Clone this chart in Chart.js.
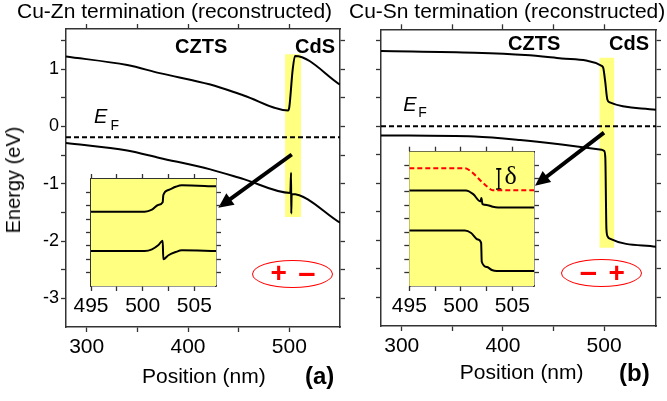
<!DOCTYPE html>
<html>
<head>
<meta charset="utf-8">
<script src="https://cdn.jsdelivr.net/npm/chart.js@4.4.1/dist/chart.umd.min.js"></script>
<style>
  html, body { margin: 0; padding: 0; background: #fff; }
  #wrap { position: relative; width: 667px; height: 401px; overflow: hidden;
          font-family: "Liberation Sans", Arial, sans-serif; }
  #wrap canvas { position: absolute; left: 0; top: 0; }
  .t { position: absolute; white-space: nowrap; line-height: 1; color: #000; }
  .oval { position: absolute; border: 1.5px solid #f00; border-radius: 50%; box-sizing: border-box; }
</style>
</head>
<body>
<div id="wrap">
  <canvas id="mainA" width="667" height="401"></canvas>
  <canvas id="mainB" width="667" height="401"></canvas>
  <canvas id="insetA" width="667" height="401"></canvas>
  <canvas id="insetB" width="667" height="401"></canvas>
</div>
<script>
// ---- data -----------------------------------------------------------------

// (a) Cu-Zn termination: band edges vs position (nm), energy (eV)
const posA_cb = [279.6, 340, 372, 422, 455, 499.0, 500.0, 503.3, 505.6, 550];
const enA_cb  = [1.22, 1.07, 0.93, 0.73, 0.54, 0.28, 0.34, 0.99, 1.23, 0.73];
const posA_vb = [279.6, 340, 372, 422, 455, 501.0, 501.7, 501.9, 502.3, 550];
const enA_vb  = [-0.29, -0.42, -0.55, -0.75, -0.92, -1.16, -0.81, -1.52, -1.18, -1.68];
const efA = -0.19;
const bandA_x = [495.8, 511.6];
const bandA_y = [-1.58, 1.26];
const arrowA_x = [502.4, 429.9];
const arrowA_y = [-0.49, -1.42];

// (b) Cu-Sn termination
const posB_cb = [279.5, 372, 422, 458, 497.6, 499.2, 501.0, 503.2, 505.6, 551.3];
const enB_cb  = [1.32, 1.29, 1.25, 1.19, 1.06, 1.02, 0.80, 0.47, 0.42, 0.29];
const posB_vb = [279.5, 372, 417, 458, 497.6, 500.0, 501.2, 502.3, 503.5, 505.6, 551.3];
const enB_vb  = [-0.16, -0.18, -0.24, -0.32, -0.41, -0.43, -0.55, -1.80, -1.93, -1.97, -2.11];
const efB = 0.0;
const bandB_x = [495.3, 510.1];
const bandB_y = [-2.13, 1.2];
const arrowB_x = [499.9, 431.7];
const arrowB_y = [-0.11, -1.04];

// insets (arbitrary energy units, one tick per unit)
const insA_x    = [495, 500.2, 500.9, 501.5, 501.94, 502.0, 502.5, 503.2, 503.8, 507.1];
const insA_y_up = [5.56, 5.56, 5.71, 6.06, 6.26, 6.80, 7.18, 7.42, 7.53, 7.45];
const insA_y_lo = [2.62, 2.62, 2.74, 3.04, 3.39, 2.00, 2.30, 2.54, 2.67, 2.62];

const insB_x_red = [495, 500.4, 501.0, 501.85, 502.55, 503.1, 507.1];
const insB_y_red = [8.77, 8.77, 8.52, 7.90, 7.41, 7.13, 7.13];
const insB_x_up  = [495, 500.5, 501.2, 501.9, 502.0, 502.1, 502.6, 503.1, 503.6, 507.1];
const insB_y_up  = [7.11, 7.11, 6.84, 6.30, 6.55, 6.10, 6.02, 5.90, 5.85, 5.85];
const insB_x_lo  = [495, 500.4, 501.0, 501.65, 501.97, 502.03, 502.55, 503.0, 503.5, 507.1];
const insB_y_lo  = [4.13, 4.13, 3.95, 3.46, 3.21, 1.81, 1.41, 1.19, 1.11, 1.11];
const deltaX = 503.68;
const deltaY = [8.72, 7.21];
const deltaCap = 0.25;

// ticks
const mainXTicks  = [300, 350, 400, 450, 500];
const mainXLabels = [300, 400, 500];
const mainYTicks  = [-3, -2.5, -2, -1.5, -1, -0.5, 0, 0.5, 1, 1.5];
const mainYLabels = [-3, -2, -1, 0, 1];
const insXTicks   = [495, 497.5, 500, 502.5, 505];
const insXLabels  = [495, 500, 505];
const insAYTicks  = [1, 2, 3, 4, 5, 6, 7];
const insBYTicks  = [1, 2, 3, 4, 5, 6, 7, 8, 9];

// ---- drawing ---------------------------------------------------------------
const W = 667, H = 401;
const ink = '#333';
const yellow = '#ffff80';

Chart.defaults.font.family = '"Liberation Sans", Arial, sans-serif';
Chart.defaults.color = '#000';
Chart.defaults.animation = false;
Chart.defaults.plugins.legend.display = false;
Chart.defaults.plugins.tooltip.enabled = false;

function pts(xs, ys) { return xs.map((x, i) => ({ x, y: ys[i] })); }

function axis(position, min, max, tickVals, labelVals, size, thick) {
  const horizontal = position === 'top' || position === 'bottom';
  return {
    type: 'linear', position, min, max,
    afterBuildTicks: (ax) => { ax.ticks = tickVals.map((v) => ({ value: v })); },
    afterFit: (ax) => { if (horizontal) ax.height = thick; else ax.width = thick; },
    grid: { drawOnChartArea: false, drawTicks: true, tickLength: 5, tickColor: ink, tickWidth: 1.3 },
    border: { display: true, color: ink, width: 1.5 },
    ticks: {
      display: !!labelVals,
      padding: horizontal ? 3 : 2,
      autoSkip: false,
      maxRotation: 0,
      font: { size: size || 12 },
      color: '#000',
      callback: (v) => (labelVals && labelVals.includes(v) ? String(v) : ''),
    },
  };
}

function padFor(area, th) {
  return { left: area.l - th.l, right: W - area.r - th.r, top: area.t - th.t, bottom: H - area.b - th.b };
}

function curve(data, extra) {
  return Object.assign({
    data, borderColor: '#000', borderWidth: 2, pointRadius: 0,
    cubicInterpolationMode: 'monotone', fill: false,
  }, extra || {});
}

// thick arrow: shaft + filled head, from the dataset's two library-placed points
const arrowPlugin = {
  id: 'arrows',
  afterDatasetsDraw(chart) {
    const ctx = chart.ctx;
    chart.data.datasets.forEach((ds, i) => {
      if (!ds.arrow) return;
      const pts = chart.getDatasetMeta(i).data;
      const a = pts[0], b = pts[1];
      const dx = b.x - a.x, dy = b.y - a.y;
      const len = Math.hypot(dx, dy), ux = dx / len, uy = dy / len;
      const hl = 15, hw = 7;
      const bx = b.x - ux * hl, by = b.y - uy * hl;
      ctx.save();
      ctx.strokeStyle = '#000';
      ctx.lineWidth = 4;
      ctx.beginPath();
      ctx.moveTo(a.x, a.y);
      ctx.lineTo(bx + ux * 2, by + uy * 2);
      ctx.stroke();
      ctx.fillStyle = '#000';
      ctx.beginPath();
      ctx.moveTo(b.x, b.y);
      ctx.lineTo(bx - uy * hw, by + ux * hw);
      ctx.lineTo(bx + uy * hw, by - ux * hw);
      ctx.closePath();
      ctx.fill();
      ctx.restore();
    });
  },
};

const yellowArea = {
  id: 'yellowArea',
  beforeDatasetsDraw(chart) {
    const { ctx, chartArea: c } = chart;
    ctx.save();
    ctx.fillStyle = yellow;
    ctx.fillRect(c.left, c.top, c.right - c.left, c.bottom - c.top);
    ctx.restore();
  },
};

function mainChart(id, area, xmin, xmax, cb, vb, ef, bandX, bandY, arrX, arrY) {
  const th = { l: 40, r: 6, t: 6, b: 40 };
  return new Chart(document.getElementById(id), {
    type: 'line',
    data: {
      datasets: [
        curve(cb),
        curve(vb),
        curve([{ x: xmin, y: ef }, { x: xmax, y: ef }], { borderDash: [5, 3], cubicInterpolationMode: 'default' }),
        { data: pts(arrX, arrY), showLine: false, pointRadius: 0, arrow: true },
        { data: pts(bandX, [bandY[1], bandY[1]]), borderWidth: 0, pointRadius: 0,
          backgroundColor: yellow, fill: { value: bandY[0] } },
      ],
    },
    options: {
      responsive: false,
      layout: { padding: padFor(area, th) },
      scales: {
        x: axis('bottom', xmin, xmax, mainXTicks, mainXLabels, 21, th.b),
        x2: axis('top', xmin, xmax, mainXTicks, null, 0, th.t),
        y: axis('left', -3.5, 1.7, mainYTicks, id === 'mainA' ? mainYLabels : null, 18, th.l),
        y2: axis('right', -3.5, 1.7, mainYTicks, null, 0, th.r),
      },
    },
    plugins: [arrowPlugin],
  });
}

function insetChart(id, area, ymax, yTicks, datasets) {
  const th = { l: 20, r: 5, t: 5, b: 30 };
  return new Chart(document.getElementById(id), {
    type: 'line',
    data: { datasets },
    options: {
      responsive: false,
      layout: { padding: padFor(area, th) },
      scales: {
        x: axis('bottom', 495, 507.1, insXTicks, insXLabels, 21, th.b),
        x2: axis('top', 495, 507.1, insXTicks, null, 0, th.t),
        y: axis('left', 0, ymax, yTicks, null, 0, th.l),
        y2: axis('right', 0, ymax, yTicks, null, 0, th.r),
      },
    },
    plugins: [yellowArea],
  });
}

mainChart('mainA', { l: 66, t: 29, r: 340, b: 327 }, 279.6, 550,
  pts(posA_cb, enA_cb), pts(posA_vb, enA_vb), efA, bandA_x, bandA_y, arrowA_x, arrowA_y);
mainChart('mainB', { l: 381, t: 29.3, r: 656, b: 326 }, 279.5, 551.3,
  pts(posB_cb, enB_cb), pts(posB_vb, enB_vb), efB, bandB_x, bandB_y, arrowB_x, arrowB_y);

insetChart('insetA', { l: 91, t: 179, r: 216, b: 286 }, 8, insAYTicks, [
  curve(pts(insA_x, insA_y_up)),
  curve(pts(insA_x, insA_y_lo)),
]);

insetChart('insetB', { l: 409.3, t: 151.7, r: 534, b: 286 }, 10, insBYTicks, [
  curve(pts(insB_x_red, insB_y_red), { borderColor: '#ff0000', borderDash: [5, 3] }),
  curve(pts(insB_x_up, insB_y_up)),
  curve(pts(insB_x_lo, insB_y_lo)),
  { data: [
      { x: deltaX - deltaCap, y: deltaY[0] }, { x: deltaX + deltaCap, y: deltaY[0] }, { x: deltaX, y: null },
      { x: deltaX, y: deltaY[0] }, { x: deltaX, y: deltaY[1] }, { x: deltaX, y: null },
      { x: deltaX - deltaCap, y: deltaY[1] }, { x: deltaX + deltaCap, y: deltaY[1] },
    ], borderColor: '#000', borderWidth: 1.6, pointRadius: 0, spanGaps: false },
]);

// ---- text overlays ---------------------------------------------------------
const wrap = document.getElementById('wrap');
function text(str, x, baseline, size, css, align) {
  const el = document.createElement('div');
  el.className = 't';
  el.innerHTML = str;
  el.style.fontSize = size + 'px';
  el.style.left = x + 'px';
  el.style.top = (baseline - 0.8465 * size) + 'px';
  if (align === 'center') el.style.transform = 'translateX(-50%)';
  if (css) el.style.cssText += css;
  wrap.appendChild(el);
  return el;
}
function oval(cx, cy, w, h) {
  const el = document.createElement('div');
  el.className = 'oval';
  el.style.left = (cx - w / 2) + 'px';
  el.style.top = (cy - h / 2) + 'px';
  el.style.width = w + 'px';
  el.style.height = h + 'px';
  wrap.appendChild(el);
}

text('Cu-Zn termination (reconstructed)', 17, 18, 21);
text('Cu-Sn termination (reconstructed)', 349, 18, 21);

text('CZTS', 175, 52.7, 20, 'font-weight:bold;');
text('CdS', 295, 52.7, 20, 'font-weight:bold;');
text('CZTS', 508, 50, 20, 'font-weight:bold;');
text('CdS', 609, 50, 20, 'font-weight:bold;');

text('E', 94, 123.3, 20, 'font-style:italic;');
text('F', 110.5, 130, 14);
text('E', 403.3, 110.7, 20, 'font-style:italic;');
text('F', 418.3, 116.7, 14);

text('Position (nm)', 203.8, 383, 21, '', 'center');
text('Position (nm)', 521.7, 378.3, 21, '', 'center');
text('(a)', 305, 384, 24, 'font-weight:bold;');
text('(b)', 619, 381, 24, 'font-weight:bold;');

const ey = text('Energy (eV)', 12, 0, 20);
ey.style.top = '180px';
ey.style.left = '13px';
ey.style.transform = 'translate(-50%,-50%) rotate(-90deg)';

oval(292.2, 274, 81, 28.3);
oval(601.3, 272.7, 80.7, 28);
text('+', 278.8, 283, 28, 'font-weight:bold;color:#f00;', 'center');
text('\u2013', 306.8, 283.5, 31, 'font-weight:bold;color:#f00;', 'center');
text('\u2013', 588.3, 282, 31, 'font-weight:bold;color:#f00;', 'center');
text('+', 616.7, 283, 28, 'font-weight:bold;color:#f00;', 'center');

text('\u03b4', 504.5, 185.5, 26, 'font-family:"Liberation Serif","DejaVu Serif",serif;');
</script>
</body>
</html>
